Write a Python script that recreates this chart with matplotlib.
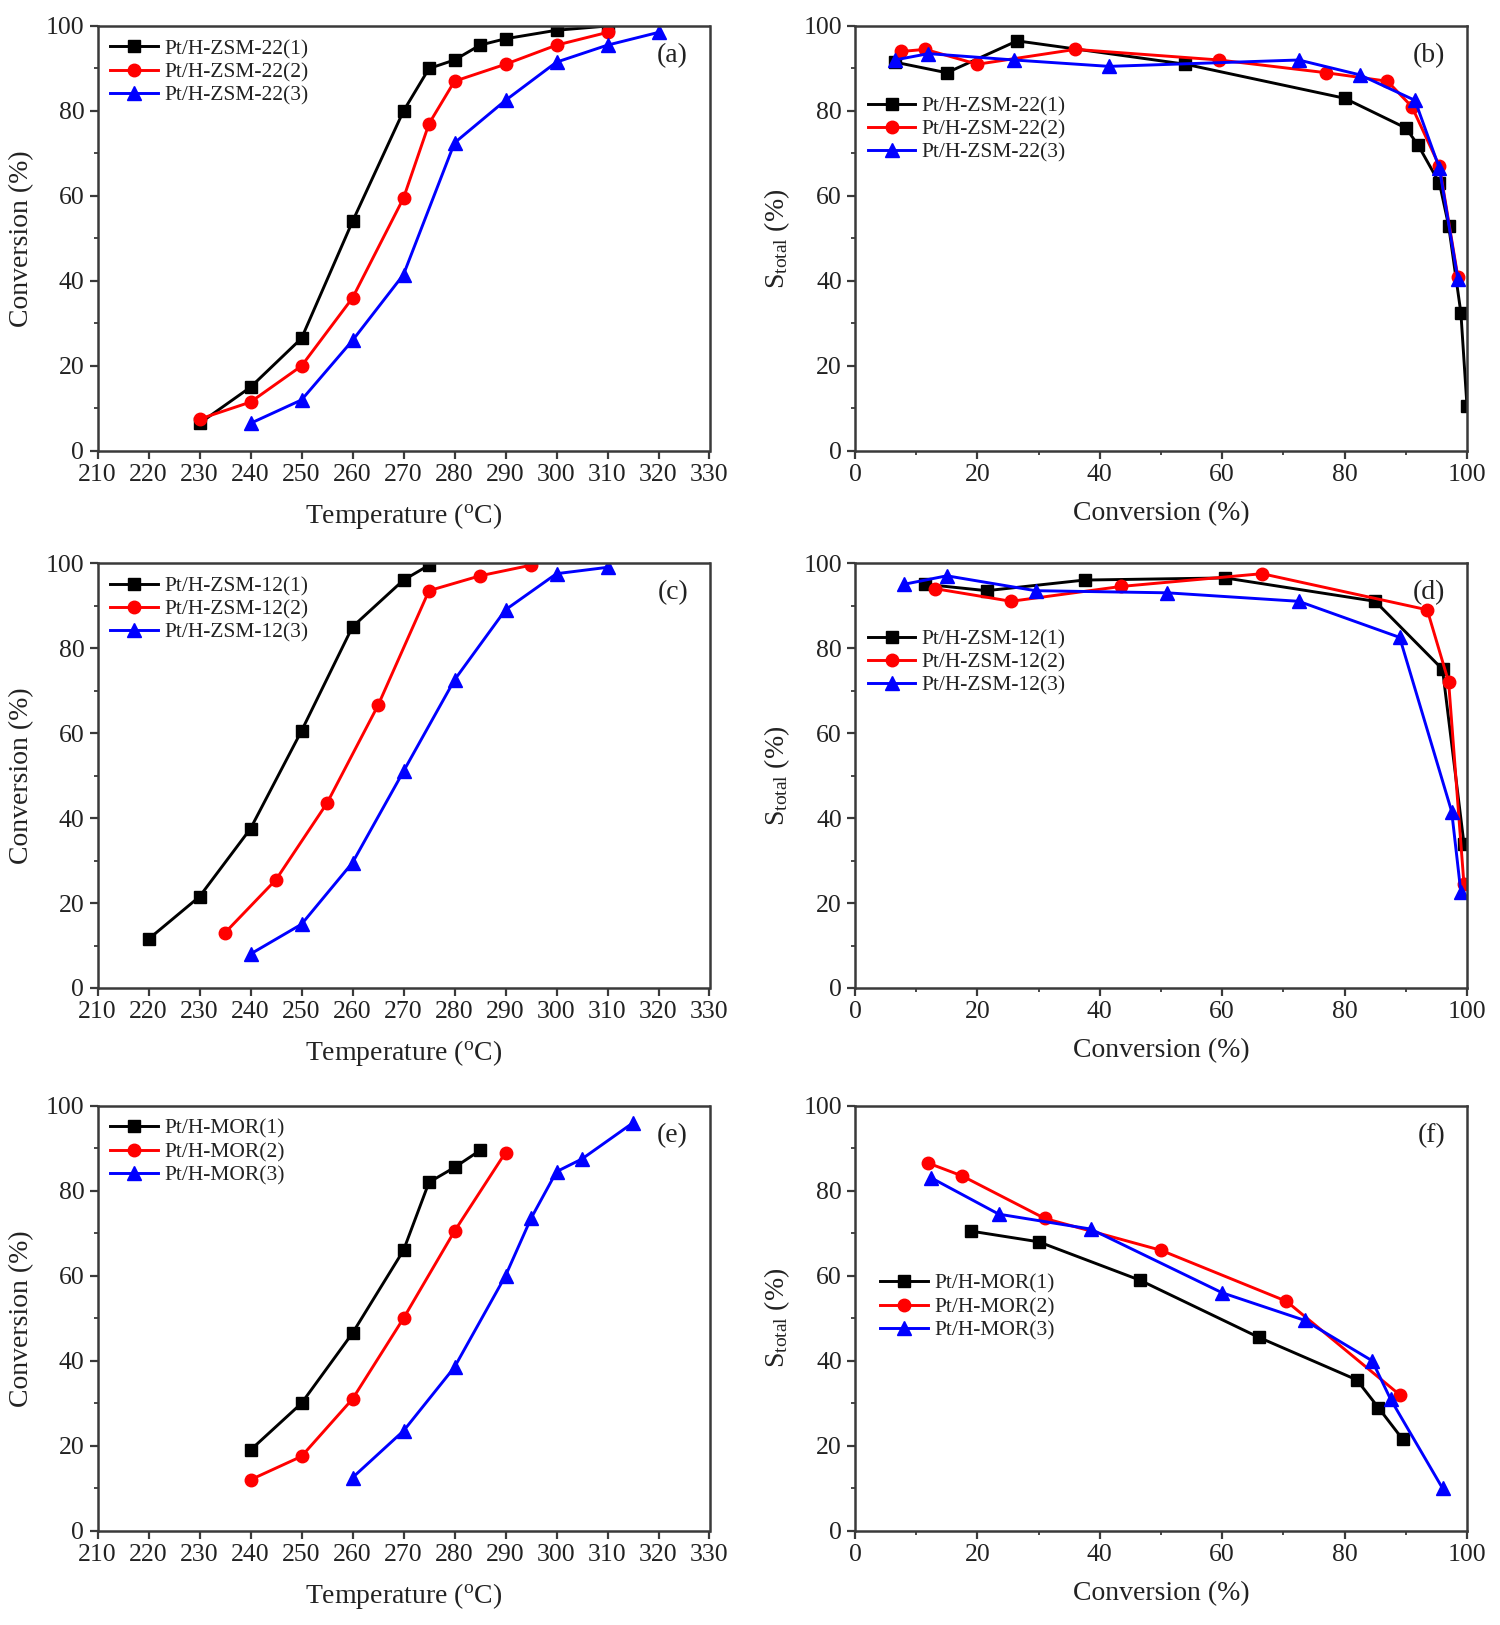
import matplotlib.pyplot as plt
from matplotlib.ticker import MultipleLocator

plt.rcParams['font.family'] = ['Liberation Serif', 'DejaVu Serif']
plt.rcParams['mathtext.fontset'] = 'custom'
plt.rcParams['mathtext.rm'] = 'Liberation Serif'
plt.rcParams['mathtext.it'] = 'Liberation Serif:italic'

# (a) / (b)  Pt/H-ZSM-22
zsm22_t1 = [230, 240, 250, 260, 270, 275, 280, 285, 290, 300, 310]
zsm22_c1 = [6.5, 15, 26.5, 54, 80, 90, 92, 95.5, 97, 99, 100]
zsm22_s1 = [91.5, 89, 96.5, 91, 83, 76, 72, 63, 53, 32.5, 10.5]
zsm22_t2 = [230, 240, 250, 260, 270, 275, 280, 290, 300, 310]
zsm22_c2 = [7.5, 11.5, 20, 36, 59.5, 77, 87, 91, 95.5, 98.5]
zsm22_s2 = [94, 94.5, 91, 94.5, 92, 89, 87, 81, 67, 41]
zsm22_t3 = [240, 250, 260, 270, 280, 290, 300, 310, 320]
zsm22_c3 = [6.5, 12, 26, 41.5, 72.5, 82.5, 91.5, 95.5, 98.5]
zsm22_s3 = [92, 93.5, 92, 90.5, 92, 88.5, 82.5, 66.5, 40.5]

# (c) / (d)  Pt/H-ZSM-12
zsm12_t1 = [220, 230, 240, 250, 260, 270, 275]
zsm12_c1 = [11.5, 21.5, 37.5, 60.5, 85, 96, 99.5]
zsm12_s1 = [95, 93.5, 96, 96.5, 91, 75, 34]
zsm12_t2 = [235, 245, 255, 265, 275, 285, 295]
zsm12_c2 = [13, 25.5, 43.5, 66.5, 93.5, 97, 99.5]
zsm12_s2 = [94, 91, 94.5, 97.5, 89, 72, 24.5]
zsm12_t3 = [240, 250, 260, 270, 280, 290, 300, 310]
zsm12_c3 = [8, 15, 29.5, 51, 72.5, 89, 97.5, 99]
zsm12_s3 = [95, 97, 93.5, 93, 91, 82.5, 41.5, 22.5]

# (e) / (f)  Pt/H-MOR
mor_t1 = [240, 250, 260, 270, 275, 280, 285]
mor_c1 = [19, 30, 46.5, 66, 82, 85.5, 89.5]
mor_s1 = [70.5, 68, 59, 45.5, 35.5, 29, 21.5]
mor_t2 = [240, 250, 260, 270, 280, 290]
mor_c2 = [12, 17.5, 31, 50, 70.5, 89]
mor_s2 = [86.5, 83.5, 73.5, 66, 54, 32]
mor_t3 = [260, 270, 280, 290, 295, 300, 305, 315]
mor_c3 = [12.5, 23.5, 38.5, 60, 73.5, 84.5, 87.5, 96]
mor_s3 = [83, 74.5, 71, 56, 49.5, 40, 31, 10]

colors = ['black', 'red', 'blue']
markers = ['s', 'o', '^']
spine_c = '#3a3a3a'
txt_c = '#222222'


def style(ax, temp):
    for s in ax.spines.values():
        s.set_color(spine_c)
        s.set_linewidth(1.8)
    ax.set_ylim(0, 100)
    ax.yaxis.set_major_locator(MultipleLocator(20))
    ax.yaxis.set_minor_locator(MultipleLocator(10))
    if temp:
        ax.set_xlim(210, 330)
        ax.xaxis.set_major_locator(MultipleLocator(10))
        ax.set_xlabel('Temperature ($^{\\mathrm{o}}$C)', fontsize=20, labelpad=11, color=txt_c)
        ax.set_ylabel('Conversion (%)', fontsize=20, labelpad=8, color=txt_c)
    else:
        ax.set_xlim(0, 100)
        ax.xaxis.set_major_locator(MultipleLocator(20))
        ax.xaxis.set_minor_locator(MultipleLocator(10))
        ax.set_xlabel('Conversion (%)', fontsize=20, labelpad=11, color=txt_c)
        ax.set_ylabel('S$_{\\mathrm{total}}$ (%)', fontsize=20, labelpad=8, color=txt_c)
    ax.tick_params(which='major', direction='out', length=6, width=1.6,
                   color=spine_c, labelsize=18.5, labelcolor=txt_c,
                   top=False, right=False)
    ax.tick_params(which='minor', direction='out', length=3, width=1.3,
                   color=spine_c, top=False, right=False)


def draw(ax, xs, ys, names, tag, temp, anchor):
    for x, y, n, c, m in zip(xs, ys, names, colors, markers):
        ms = 10.5 if m == '^' else 9
        ax.plot(x, y, color=c, marker=m, markersize=ms, linewidth=2.1, label=n)
    style(ax, temp)
    leg = ax.legend(loc='upper left', bbox_to_anchor=anchor, frameon=False,
                    fontsize=15.5, handlelength=2.2, labelspacing=0.15,
                    handletextpad=0.3, borderaxespad=0.2)
    for t in leg.get_texts():
        t.set_color(txt_c)
    ax.text(0.965, 0.93, tag, transform=ax.transAxes, fontsize=20,
            ha='right', va='center', color=txt_c)


fig = plt.figure(figsize=(15, 16.25), dpi=100)
w, h = 0.408, 0.2615
lefts = [0.065, 0.570]
bottoms = [0.7225, 0.392, 0.058]

ax_a = fig.add_axes([lefts[0], bottoms[0], w, h])
ax_b = fig.add_axes([lefts[1], bottoms[0], w, h])
ax_c = fig.add_axes([lefts[0], bottoms[1], w, h])
ax_d = fig.add_axes([lefts[1], bottoms[1], w, h])
ax_e = fig.add_axes([lefts[0], bottoms[2], w, h])
ax_f = fig.add_axes([lefts[1], bottoms[2], w, h])

n22 = ['Pt/H-ZSM-22(1)', 'Pt/H-ZSM-22(2)', 'Pt/H-ZSM-22(3)']
n12 = ['Pt/H-ZSM-12(1)', 'Pt/H-ZSM-12(2)', 'Pt/H-ZSM-12(3)']
nmor = ['Pt/H-MOR(1)', 'Pt/H-MOR(2)', 'Pt/H-MOR(3)']

draw(ax_a, [zsm22_t1, zsm22_t2, zsm22_t3], [zsm22_c1, zsm22_c2, zsm22_c3],
     n22, '(a)', True, (0.0, 1.0))
draw(ax_b, [zsm22_c1, zsm22_c2, zsm22_c3], [zsm22_s1, zsm22_s2, zsm22_s3],
     n22, '(b)', False, (0.0, 0.865))
draw(ax_c, [zsm12_t1, zsm12_t2, zsm12_t3], [zsm12_c1, zsm12_c2, zsm12_c3],
     n12, '(c)', True, (0.0, 1.0))
draw(ax_d, [zsm12_c1, zsm12_c2, zsm12_c3], [zsm12_s1, zsm12_s2, zsm12_s3],
     n12, '(d)', False, (0.0, 0.875))
draw(ax_e, [mor_t1, mor_t2, mor_t3], [mor_c1, mor_c2, mor_c3],
     nmor, '(e)', True, (0.0, 1.0))
draw(ax_f, [mor_c1, mor_c2, mor_c3], [mor_s1, mor_s2, mor_s3],
     nmor, '(f)', False, (0.02, 0.635))

fig.savefig('out.png', dpi=100)
